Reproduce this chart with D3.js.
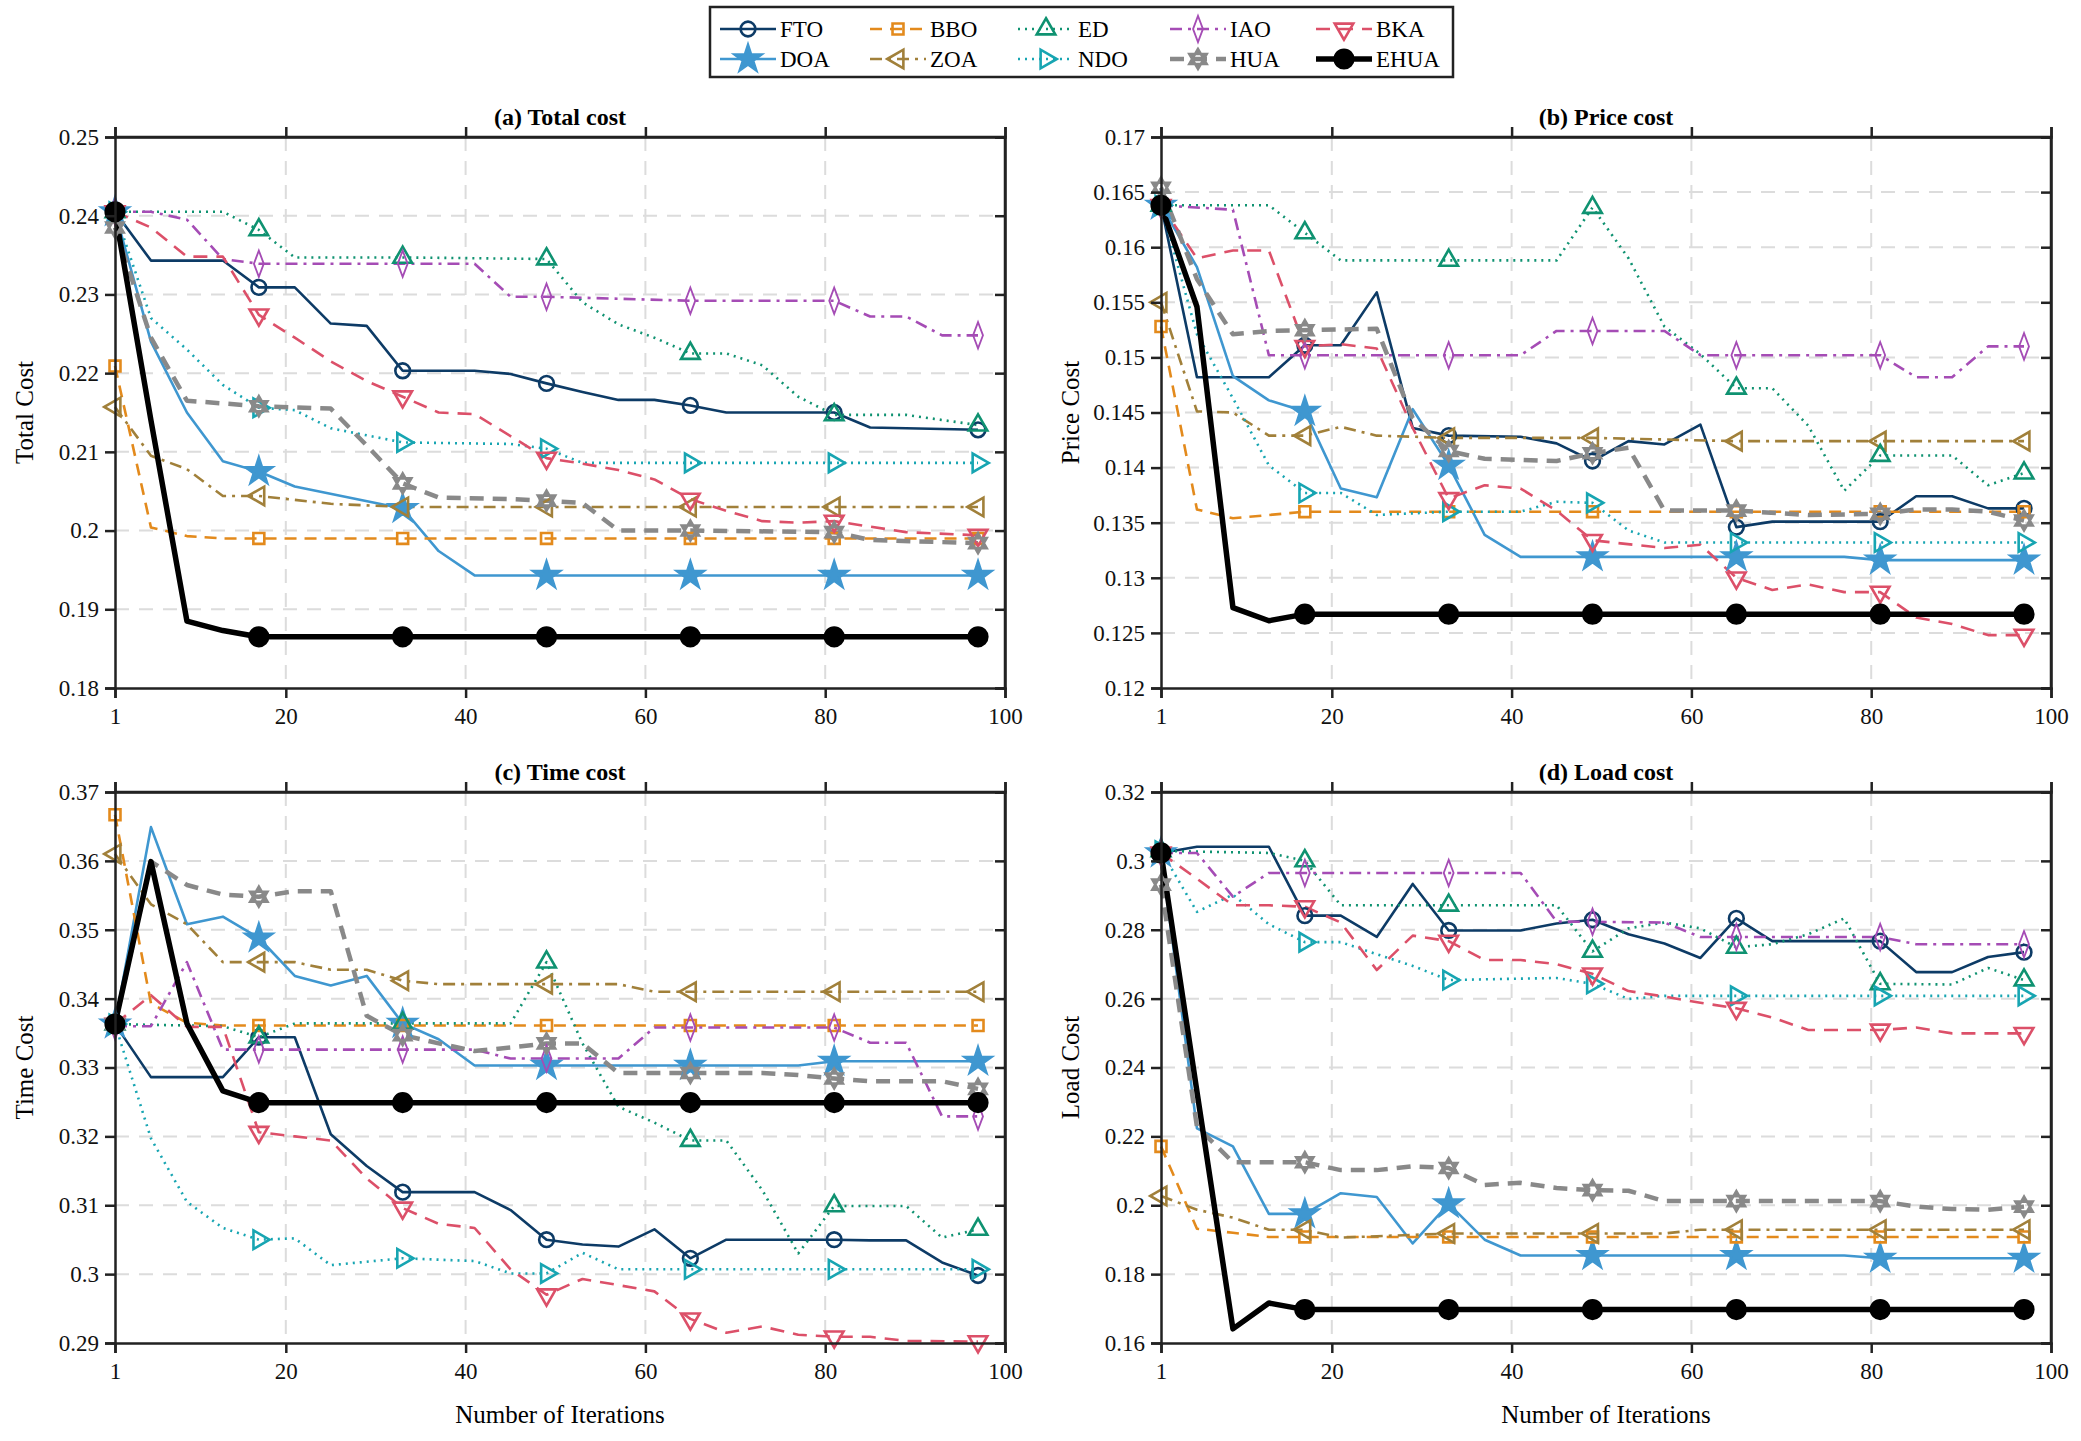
<!DOCTYPE html>
<html>
<head>
<meta charset="utf-8">
<script src="https://cdn.jsdelivr.net/npm/d3@7"></script>
<style>
  body { margin: 0; background: #fff; }
  text { font-family: "Liberation Serif", "Times New Roman", serif; }
</style>
</head>
<body>
<script>
const W = 2081, H = 1441;

// algorithm order used by every panel array below
const algorithms = ["FTO", "DOA", "BBO", "ZOA", "ED", "NDO", "IAO", "BKA", "HUA", "EHUA"];
const legendRows = [["FTO", "BBO", "ED", "IAO", "BKA"], ["DOA", "ZOA", "NDO", "HUA", "EHUA"]];
const xTicks = [1, 20, 40, 60, 80, 100];
const markerIters = [1, 17, 33, 49, 65, 81, 97];

// [iteration, value] breakpoints
const totalCost = [
  [[1,.2405],[5,.2343],[13,.2343],[17,.2309],[21,.2309],[25,.2263],[29,.2260],[33,.2203],[41,.2203],[45,.2199],[49,.2187],[53,.2176],[57,.2166],[61,.2166],[65,.2159],[69,.2150],[81,.2150],[85,.2131],[97,.2128]],
  [[1,.2405],[5,.2240],[9,.2150],[13,.2088],[17,.2075],[21,.2056],[33,.2028],[37,.1974],[41,.1943],[97,.1943]],
  [[1,.2209],[5,.2004],[9,.1993],[13,.1990],[97,.1990]],
  [[1,.2157],[5,.2095],[9,.2078],[13,.2044],[17,.2044],[25,.2034],[33,.2030],[97,.2030]],
  [[1,.2405],[13,.2405],[17,.2382],[21,.2347],[33,.2347],[49,.2345],[53,.2290],[57,.2262],[61,.2245],[65,.2225],[69,.2225],[73,.2210],[77,.2170],[81,.2147],[89,.2147],[97,.2134]],
  [[1,.2405],[5,.2270],[9,.2230],[13,.2185],[17,.2156],[21,.2153],[25,.2130],[33,.2112],[45,.2110],[49,.2104],[53,.2086],[97,.2086]],
  [[1,.2405],[5,.2405],[9,.2395],[13,.2345],[17,.2339],[41,.2339],[45,.2297],[49,.2297],[65,.2292],[81,.2292],[85,.2272],[89,.2272],[93,.2248],[97,.2248]],
  [[1,.2405],[5,.2385],[9,.2348],[13,.2348],[17,.2274],[21,.2245],[25,.2215],[29,.2190],[33,.2170],[37,.2150],[41,.2148],[49,.2092],[53,.2085],[57,.2077],[61,.2065],[65,.2040],[69,.2025],[73,.2012],[77,.2010],[81,.2012],[85,.2005],[89,.1998],[97,.1994]],
  [[1,.2385],[5,.2245],[9,.2165],[17,.2158],[25,.2155],[29,.2108],[33,.2060],[37,.2042],[45,.2040],[49,.2038],[53,.2035],[57,.2000],[65,.2000],[81,.1998],[85,.1988],[97,.1984]],
  [[1,.2405],[5,.2140],[9,.1885],[13,.1873],[17,.1865],[97,.1865]]
];

const priceCost = [
  [[1,.1638],[5,.1482],[13,.1482],[17,.1511],[21,.1511],[25,.1559],[29,.1436],[33,.1429],[41,.1428],[45,.1422],[49,.1406],[53,.1424],[57,.1421],[61,.1439],[65,.1346],[69,.1351],[81,.1351],[85,.1374],[89,.1374],[93,.1363],[97,.1363]],
  [[1,.1638],[5,.1582],[9,.1483],[13,.1461],[17,.1451],[21,.1381],[25,.1373],[29,.1453],[33,.1402],[37,.1339],[41,.1319],[77,.1319],[81,.1316],[97,.1316]],
  [[1,.1528],[5,.1362],[9,.1354],[17,.1360],[97,.1360]],
  [[1,.1550],[5,.1451],[9,.1450],[13,.1429],[17,.1429],[21,.1437],[25,.1429],[33,.1427],[49,.1427],[65,.1424],[97,.1424]],
  [[1,.1638],[13,.1638],[17,.1613],[21,.1588],[45,.1588],[49,.1636],[53,.1590],[57,.1528],[61,.1503],[65,.1472],[69,.1472],[73,.1438],[77,.1379],[81,.1411],[89,.1411],[93,.1384],[97,.1395]],
  [[1,.1638],[5,.1521],[9,.1463],[13,.1402],[17,.1377],[21,.1377],[25,.1357],[33,.1360],[41,.1360],[45,.1369],[49,.1368],[53,.1343],[57,.1332],[97,.1332]],
  [[1,.1638],[9,.1634],[13,.1502],[41,.1502],[45,.1524],[57,.1524],[61,.1502],[81,.1502],[85,.1482],[89,.1482],[93,.1510],[97,.1510]],
  [[1,.1638],[5,.1590],[9,.1597],[13,.1597],[17,.1510],[21,.1512],[25,.1508],[29,.1436],[33,.1372],[37,.1384],[41,.1381],[45,.1361],[49,.1334],[57,.1327],[61,.1330],[65,.1300],[69,.1289],[73,.1294],[77,.1287],[81,.1287],[85,.1264],[89,.1258],[93,.1248],[97,.1248]],
  [[1,.1654],[5,.1571],[9,.1521],[13,.1524],[25,.1526],[29,.1445],[33,.1415],[37,.1408],[45,.1406],[49,.1413],[53,.1418],[57,.1361],[65,.1361],[73,.1357],[81,.1358],[85,.1362],[89,.1362],[93,.1360],[97,.1352]],
  [[1,.1638],[5,.1546],[9,.1273],[13,.1261],[17,.1267],[97,.1267]]
];

const timeCost = [
  [[1,.3363],[5,.3286],[13,.3286],[17,.3344],[21,.3344],[25,.3203],[29,.3157],[33,.3119],[41,.3119],[45,.3093],[49,.3050],[53,.3043],[57,.3040],[61,.3065],[65,.3023],[69,.3050],[81,.3050],[85,.3049],[89,.3049],[93,.3017],[97,.2998]],
  [[1,.3363],[5,.3649],[9,.3508],[13,.3519],[17,.3488],[21,.3433],[25,.3419],[29,.3433],[33,.3364],[37,.3341],[41,.3303],[77,.3303],[81,.3309],[97,.3309]],
  [[1,.3667],[5,.3393],[9,.3365],[13,.3361],[97,.3361]],
  [[1,.3610],[5,.3537],[9,.3508],[13,.3453],[21,.3453],[25,.3442],[29,.3442],[33,.3426],[37,.3421],[57,.3421],[61,.3410],[97,.3410]],
  [[1,.3363],[13,.3360],[17,.3344],[21,.3364],[45,.3364],[49,.3453],[53,.3335],[57,.3243],[61,.3220],[65,.3194],[69,.3194],[73,.3122],[77,.3030],[81,.3099],[89,.3099],[93,.3053],[97,.3065]],
  [[1,.3363],[5,.3197],[9,.3105],[13,.3067],[17,.3050],[21,.3052],[25,.3013],[33,.3023],[41,.3019],[45,.3001],[49,.3001],[53,.3031],[57,.3007],[97,.3007]],
  [[1,.3360],[5,.3360],[9,.3453],[13,.3326],[41,.3326],[45,.3313],[57,.3313],[61,.3358],[81,.3358],[85,.3336],[89,.3336],[93,.3229],[97,.3229]],
  [[1,.3363],[5,.3405],[9,.3359],[13,.3359],[17,.3206],[21,.3200],[25,.3194],[29,.3139],[33,.3096],[37,.3073],[41,.3067],[45,.3007],[49,.2970],[53,.2993],[57,.2984],[61,.2975],[65,.2935],[69,.2915],[73,.2924],[77,.2912],[81,.2909],[85,.2909],[89,.2903],[97,.2902]],
  [[1,.3363],[5,.3599],[9,.3565],[13,.3551],[17,.3548],[21,.3556],[25,.3556],[29,.3375],[33,.3347],[37,.3335],[41,.3324],[45,.3329],[49,.3335],[53,.3335],[57,.3292],[73,.3292],[77,.3289],[81,.3284],[85,.3280],[93,.3280],[97,.3269]],
  [[1,.3363],[5,.3599],[9,.3364],[13,.3266],[17,.3249],[97,.3249]]
];

const loadCost = [
  [[1,.3023],[5,.3041],[13,.3041],[17,.2841],[21,.2841],[25,.2779],[29,.2933],[33,.2798],[41,.2798],[45,.2818],[49,.2829],[53,.2787],[57,.2760],[61,.2718],[65,.2833],[69,.2767],[81,.2767],[85,.2677],[89,.2677],[93,.2721],[97,.2735]],
  [[1,.3023],[5,.2223],[9,.2171],[13,.1975],[17,.1975],[21,.2035],[25,.2024],[29,.1889],[33,.2004],[37,.1900],[41,.1854],[77,.1854],[81,.1846],[97,.1846]],
  [[1,.2171],[5,.1932],[9,.1920],[13,.1908],[97,.1908]],
  [[1,.2027],[5,.1987],[9,.1964],[13,.1929],[17,.1929],[21,.1906],[33,.1918],[57,.1918],[61,.1929],[97,.1929]],
  [[1,.3029],[13,.3023],[17,.3000],[21,.2871],[45,.2871],[49,.2737],[53,.2804],[57,.2821],[61,.2804],[65,.2749],[69,.2758],[73,.2787],[77,.2833],[81,.2643],[89,.2641],[93,.2689],[97,.2654]],
  [[1,.3029],[5,.2852],[9,.2902],[13,.2816],[17,.2764],[21,.2764],[25,.2729],[29,.2695],[33,.2654],[45,.2660],[49,.2643],[53,.2599],[57,.2608],[97,.2608]],
  [[1,.3023],[5,.3023],[9,.2896],[13,.2965],[41,.2965],[45,.2824],[57,.2821],[61,.2779],[81,.2779],[85,.2758],[97,.2758]],
  [[1,.3023],[5,.2948],[9,.2871],[13,.2871],[17,.2867],[21,.2821],[25,.2683],[29,.2783],[33,.2767],[37,.2712],[41,.2712],[45,.2700],[49,.2672],[53,.2622],[57,.2606],[61,.2588],[65,.2572],[69,.2545],[73,.2509],[81,.2509],[85,.2516],[89,.2499],[97,.2499]],
  [[1,.2931],[5,.2228],[9,.2125],[17,.2125],[21,.2102],[25,.2102],[29,.2113],[33,.2108],[37,.2059],[41,.2065],[45,.2050],[49,.2044],[53,.2042],[57,.2012],[81,.2012],[85,.1996],[89,.1989],[93,.1987],[97,.1996]],
  [[1,.3023],[5,.2330],[9,.1641],[13,.1716],[17,.1697],[97,.1697]]
];

const panels = [
  { title: "(a) Total cost", ylabel: "Total Cost", data: totalCost, domain: [0.18, 0.25], ticks: [0.18,0.19,0.2,0.21,0.22,0.23,0.24,0.25], left: 115, top: 137 },
  { title: "(b) Price cost", ylabel: "Price Cost", data: priceCost, domain: [0.12, 0.17], ticks: [0.12,0.125,0.13,0.135,0.14,0.145,0.15,0.155,0.16,0.165,0.17], left: 1161, top: 137 },
  { title: "(c) Time cost", ylabel: "Time Cost", data: timeCost, domain: [0.29, 0.37], ticks: [0.29,0.3,0.31,0.32,0.33,0.34,0.35,0.36,0.37], left: 115, top: 792 },
  { title: "(d) Load cost", ylabel: "Load Cost", data: loadCost, domain: [0.16, 0.32], ticks: [0.16,0.18,0.2,0.22,0.24,0.26,0.28,0.3,0.32], left: 1161, top: 792 }
];
const PW = 890, PH = 551;

// styling of each algorithm
const styles = {
  FTO:  { color: "#0d3b66", dash: null,        width: 2.6, sym: "circle" },
  DOA:  { color: "#3f97d0", dash: null,        width: 2.6, sym: "star" },
  BBO:  { color: "#e38a1c", dash: "12,8",      width: 2.6, sym: "square" },
  ZOA:  { color: "#a1803a", dash: "12,6,3,6",  width: 2.6, sym: "left" },
  ED:   { color: "#0f9271", dash: "2,5",       width: 2.6, sym: "up" },
  NDO:  { color: "#17a5b2", dash: "2,5",       width: 2.6, sym: "right" },
  IAO:  { color: "#a54cb5", dash: "12,6,3,6",  width: 2.6, sym: "diamond" },
  BKA:  { color: "#dc5069", dash: "14,9",      width: 2.6, sym: "down" },
  HUA:  { color: "#898989", dash: "14,9",      width: 4.5, sym: "hex" },
  EHUA: { color: "#000000", dash: null,        width: 5.5, sym: "fill" }
};

const svg = d3.select("body").append("svg").attr("width", W).attr("height", H);

function markerPath(sym) {
  const tri = d3.symbol(d3.symbolTriangle, 150)();
  switch (sym) {
    case "circle": return { d: d3.symbol(d3.symbolCircle, 170)(), rot: 0, sx: 1 };
    case "star": return { d: d3.symbol(d3.symbolStar, 220)(), rot: 0, sx: 1 };
    case "square": return { d: d3.symbol(d3.symbolSquare, 120)(), rot: 0, sx: 1 };
    case "up": return { d: tri, rot: 0, sx: 1 };
    case "down": return { d: tri, rot: 180, sx: 1 };
    case "left": return { d: tri, rot: -90, sx: 1 };
    case "right": return { d: tri, rot: 90, sx: 1 };
    case "diamond": return { d: d3.symbol(d3.symbolDiamond, 200)(), rot: 0, sx: 0.65 };
    case "hex": {
      const r = 10, p = a => [r * Math.sin(a), -r * Math.cos(a)];
      const t1 = [0, 2, 4].map(k => p(k * Math.PI * 2 / 3));
      const t2 = [1, 3, 5].map(k => p(k * Math.PI / 3));
      return { d: "M" + t1.join("L") + "Z M" + t2.join("L") + "Z", rot: 0, sx: 1 };
    }
    case "fill": return { d: d3.symbol(d3.symbolCircle, 260)(), rot: 0, sx: 1 };
  }
}

function drawMarker(g, name, x, y) {
  const st = styles[name], m = markerPath(st.sym);
  const filled = st.sym === "star" || st.sym === "hex" || st.sym === "fill";
  g.append("path").attr("d", m.d)
    .attr("transform", `translate(${x},${y}) rotate(${m.rot}) scale(${m.sx},1)`)
    .attr("fill", filled ? st.color : "none")
    .attr("stroke", st.color)
    .attr("stroke-width", st.sym === "fill" ? 3 : 2.6);
}

function valueAt(pts, it) {
  for (let i = 1; i < pts.length; i++) {
    if (it <= pts[i][0]) {
      const [x0, y0] = pts[i - 1], [x1, y1] = pts[i];
      return y0 + (y1 - y0) * (it - x0) / (x1 - x0);
    }
  }
  return pts[pts.length - 1][1];
}

panels.forEach(p => {
  const g = svg.append("g").attr("transform", `translate(${p.left},${p.top})`);
  const x = d3.scaleLinear().domain([1, 100]).range([0, PW]);
  const y = d3.scaleLinear().domain(p.domain).range([PH, 0]);

  // grid
  g.selectAll(".gy").data(p.ticks.slice(1, -1)).join("line")
    .attr("x1", 0).attr("x2", PW).attr("y1", d => y(d)).attr("y2", d => y(d))
    .attr("stroke", "#dcdcdc").attr("stroke-width", 2).attr("stroke-dasharray", "14,10");
  g.selectAll(".gx").data(xTicks.slice(1, -1)).join("line")
    .attr("y1", 0).attr("y2", PH).attr("x1", d => x(d)).attr("x2", d => x(d))
    .attr("stroke", "#dcdcdc").attr("stroke-width", 2).attr("stroke-dasharray", "14,10");

  // series
  const line = d3.line().x(d => x(d[0])).y(d => y(d[1]));
  algorithms.forEach((name, i) => {
    const st = styles[name];
    g.append("path").datum(p.data[i]).attr("d", line)
      .attr("fill", "none").attr("stroke", st.color)
      .attr("stroke-width", st.width)
      .attr("stroke-dasharray", st.dash)
      .attr("stroke-linejoin", "round");
  });
  algorithms.forEach((name, i) => {
    markerIters.forEach(it => drawMarker(g, name, x(it), y(valueAt(p.data[i], it))));
  });

  // axes (box with ticks on all sides)
  const fmt = d => String(+d.toFixed(3)).replace(/^0\./, "0.");
  g.append("g").attr("transform", `translate(0,${PH})`)
    .call(d3.axisBottom(x).tickValues(xTicks).tickSize(10).tickPadding(10).tickFormat(d3.format("d")));
  g.append("g").call(d3.axisTop(x).tickValues(xTicks).tickSize(10).tickFormat(""));
  g.append("g").call(d3.axisLeft(y).tickValues(p.ticks).tickSize(10).tickPadding(6).tickFormat(fmt));
  g.append("g").attr("transform", `translate(${PW},0)`)
    .call(d3.axisLeft(y).tickValues(p.ticks).tickSize(10).tickFormat(""));
  g.selectAll(".domain").attr("stroke", "#222").attr("stroke-width", 2.5);
  g.selectAll(".tick line").attr("stroke", "#222").attr("stroke-width", 2.5);
  g.selectAll(".tick text").attr("font-family", "Liberation Serif").attr("font-size", 23).attr("fill", "#111");
  g.append("line").attr("x1", PW).attr("x2", PW).attr("y1", 0).attr("y2", PH).attr("stroke", "#222").attr("stroke-width", 2.5);
  g.append("line").attr("x1", 0).attr("x2", PW).attr("y1", 0).attr("y2", 0).attr("stroke", "#222").attr("stroke-width", 2.5);

  g.append("text").attr("x", PW / 2).attr("y", -12).attr("text-anchor", "middle")
    .attr("font-size", 24).attr("font-weight", "bold").text(p.title);
  g.append("text").attr("transform", `translate(${-82},${PH / 2}) rotate(-90)`)
    .attr("text-anchor", "middle").attr("font-size", 25).text(p.ylabel);
  if (p.top > 500) {
    g.append("text").attr("x", PW / 2).attr("y", PH + 80).attr("text-anchor", "middle")
      .attr("font-size", 25).text("Number of Iterations");
  }
});

// legend
const lg = svg.append("g");
lg.append("rect").attr("x", 710).attr("y", 7).attr("width", 743).attr("height", 70)
  .attr("fill", "#fff").attr("stroke", "#222").attr("stroke-width", 2.5);
const colX = [720, 870, 1018, 1170, 1316];
legendRows.forEach((row, r) => {
  const yy = 29 + r * 30;
  row.forEach((name, c) => {
    const st = styles[name], x0 = colX[c];
    lg.append("line").attr("x1", x0).attr("x2", x0 + 56).attr("y1", yy).attr("y2", yy)
      .attr("stroke", st.color).attr("stroke-width", st.width).attr("stroke-dasharray", st.dash);
    drawMarker(lg, name, x0 + 28, yy);
    lg.append("text").attr("x", x0 + 60).attr("y", yy + 8).attr("font-size", 23).text(name);
  });
});
</script>
</body>
</html>
